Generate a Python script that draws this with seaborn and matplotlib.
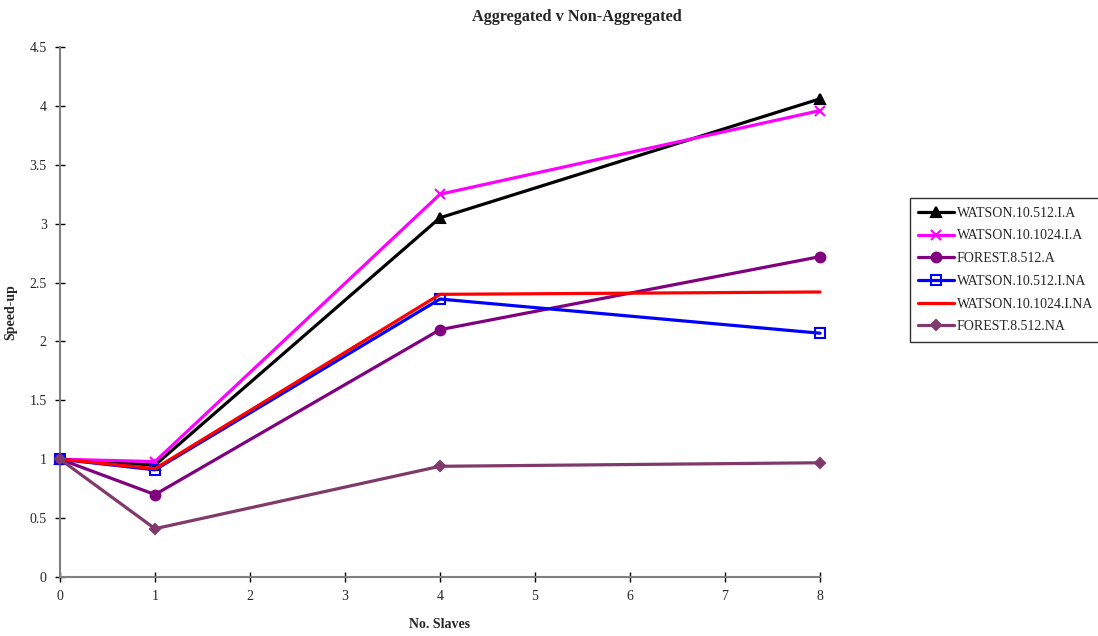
import matplotlib
matplotlib.use("Agg")
import matplotlib.pyplot as plt
import seaborn as sns
import pandas as pd

# number of slaves on the x axis
slaves = [0, 1, 4, 8]

# speed-up per configuration
watson_512_a = [1.0, 0.95, 3.05, 4.06]
watson_1024_a = [1.0, 0.98, 3.25, 3.96]
forest_512_a = [1.0, 0.70, 2.10, 2.72]
watson_512_na = [1.0, 0.91, 2.36, 2.07]
watson_1024_na = [1.0, 0.92, 2.40, 2.42]
forest_512_na = [1.0, 0.41, 0.94, 0.97]

series_names = ["WATSON.10.512.I.A", "WATSON.10.1024.I.A", "FOREST.8.512.A",
                "WATSON.10.512.I.NA", "WATSON.10.1024.I.NA", "FOREST.8.512.NA"]
series_values = [watson_512_a, watson_1024_a, forest_512_a,
                 watson_512_na, watson_1024_na, forest_512_na]

styles = {
    "WATSON.10.512.I.A": dict(color="black", marker="^", ms=7, mfc="black"),
    "WATSON.10.1024.I.A": dict(color="#FF00FF", marker="x", ms=7, mfc="#FF00FF"),
    "FOREST.8.512.A": dict(color="#800080", marker="o", ms=7, mfc="#800080"),
    "WATSON.10.512.I.NA": dict(color="#0000FF", marker="s", ms=7, mfc="none"),
    "WATSON.10.1024.I.NA": dict(color="#FF0000", marker=None, ms=0, mfc="none"),
    "FOREST.8.512.NA": dict(color="#7F3A6B", marker="D", ms=5.5, mfc="#7F3A6B"),
}

rows = []
for name, vals in zip(series_names, series_values):
    for x, y in zip(slaves, vals):
        rows.append({"series": name, "slaves": x, "speedup": y})
df = pd.DataFrame(rows)

sns.set_style("white")
plt.rcParams["font.family"] = ["Liberation Serif", "DejaVu Serif"]

fig = plt.figure(figsize=(10.98, 6.36), dpi=100)
ax = fig.add_axes([60 / 1098, 1 - 577 / 636, 760 / 1098, 530 / 636])

for name in series_names:
    st = styles[name]
    sub = df[df["series"] == name]
    sns.lineplot(data=sub, x="slaves", y="speedup", ax=ax, label=name,
                 color=st["color"], linewidth=2.3, marker=st["marker"],
                 markersize=st["ms"], markerfacecolor=st["mfc"],
                 markeredgecolor=st["color"], markeredgewidth=1.5,
                 clip_on=False, zorder=3)

ax.set_xlim(0, 8)
ax.set_ylim(0, 4.5)
ax.set_xticks(range(0, 9))
ax.set_xticklabels([str(i) for i in range(0, 9)])
yt = [0, 0.5, 1, 1.5, 2, 2.5, 3, 3.5, 4, 4.5]
ax.set_yticks(yt)
ax.set_yticklabels(["0", "0.5", "1", "1.5", "2", "2.5", "3", "3.5", "4", "4.5"])
ax.tick_params(axis="both", direction="inout", length=7, width=1, color="black",
               labelsize=10, pad=6, left=True, bottom=True)

for side in ["top", "right"]:
    ax.spines[side].set_visible(False)
for side in ["left", "bottom"]:
    ax.spines[side].set_color("#808080")
    ax.spines[side].set_linewidth(1.5)

ax.set_xlabel("No. Slaves", fontsize=10, fontweight="bold")
ax.set_ylabel("Speed-up", fontsize=10, fontweight="bold")
ax.xaxis.set_label_coords(380 / 760, (577 - 618) / 530)
ax.yaxis.set_label_coords((17 - 60) / 760, 0.5)

fig.text(577 / 1098, 1 - 17 / 636, "Aggregated v Non-Aggregated", ha="center",
         va="center", fontsize=11.7, fontweight="bold")

leg = ax.legend(loc="center left", bbox_to_anchor=(910 / 1098, 1 - 270 / 636),
                bbox_transform=fig.transFigure, frameon=True, fancybox=False,
                edgecolor="black", fontsize=10, handlelength=2.6,
                handletextpad=0.15, borderpad=0.6, labelspacing=0.7,
                borderaxespad=0)
leg.get_frame().set_linewidth(1.0)

fig.savefig("out.png", dpi=100)
